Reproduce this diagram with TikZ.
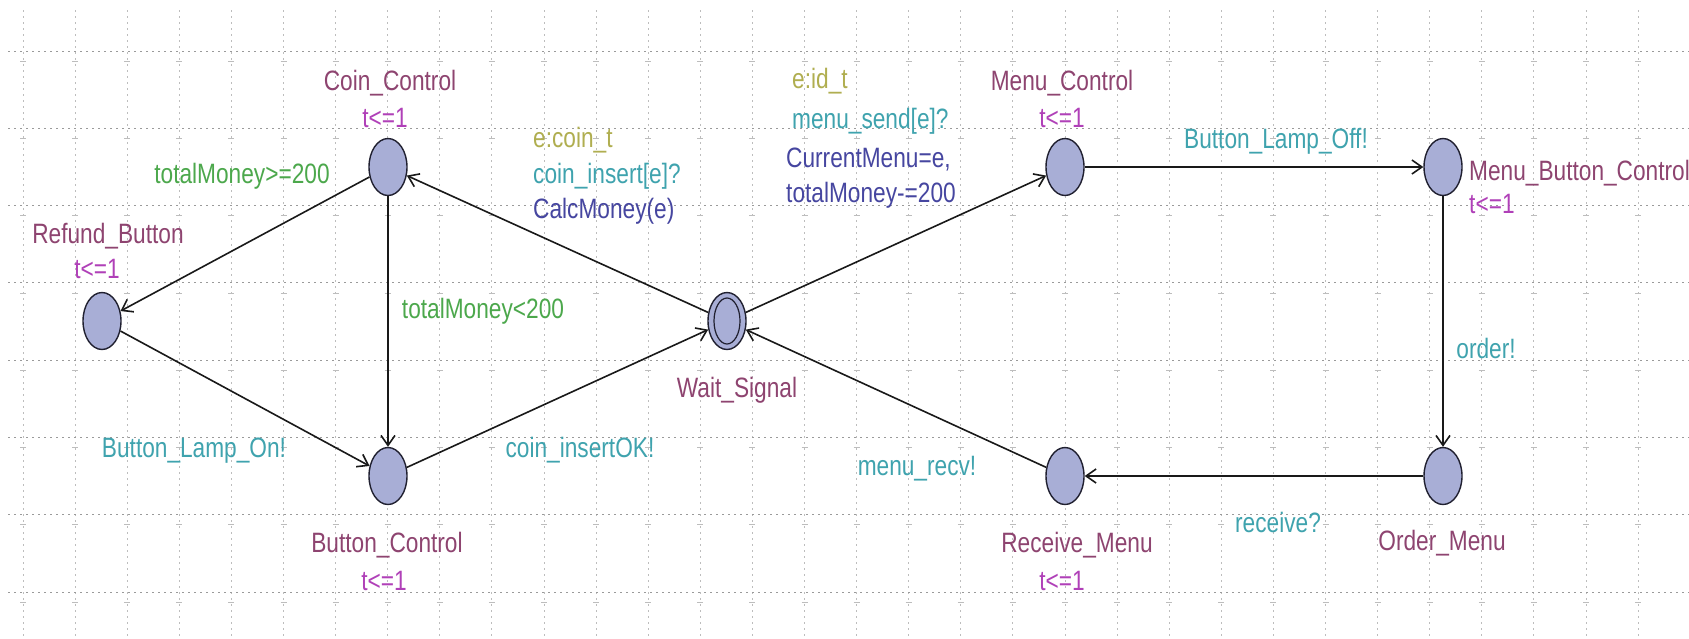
\documentclass[tikz,border=0pt]{standalone}
\usepackage{fontspec}
\setmainfont{Liberation Sans}
\newfontfamily\uppfont[FakeStretch=0.81]{Liberation Sans}
\usetikzlibrary{arrows.meta,shapes.geometric,positioning}
\definecolor{locfill}{HTML}{A8AED6}
\definecolor{locline}{HTML}{202030}
\definecolor{namecol}{HTML}{8E4470}
\definecolor{invcol}{HTML}{B040B8}
\definecolor{selcol}{HTML}{B0AE50}
\definecolor{guardcol}{HTML}{4CA84C}
\definecolor{synccol}{HTML}{3FA3AE}
\definecolor{updcol}{HTML}{4646A0}
\definecolor{gridh}{HTML}{9A9A9A}
\definecolor{gridv}{HTML}{BDBDBD}

\begin{document}
\begin{tikzpicture}[x=1pt, y=-1pt, >={Straight Barb[length=10pt,width=14pt]},
		font=\uppfont\fontsize{28}{36}\selectfont,
		loc/.style={ellipse, draw=locline, fill=locfill, line width=1.4pt, minimum width=38pt, minimum height=57pt, inner sep=0pt},
		initloc/.style={loc, path picture={
			\draw[locline, line width=1.2pt] (path picture bounding box.center) ellipse (13pt and 23pt);}},
		lbl/.style={inner sep=0pt, text height=22pt, text depth=2pt},
		lname/.style={lbl, text=namecol},
		linv/.style={lbl, text=invcol},
		lsel/.style={lbl, text=selcol, anchor=west},
		lguard/.style={lbl, text=guardcol},
		lsync/.style={lbl, text=synccol},
		lupd/.style={lbl, text=updcol, anchor=west},
		trans/.style={->, line width=1.6pt, draw=black!90}]
		\def\gx{52.1}\def\gy{77.3}
		\useasboundingbox (0,0) rectangle (1689,638);
		\fill[white] (0,0) rectangle (1689,638);
		% ---------------- grid ----------------
		\foreach \i in {0,...,31}
			\draw[gridv, line width=0.9pt, dash pattern=on 1.5pt off 4.5pt] ({23+\gx*\i},10) -- ({23+\gx*\i},638);
		\foreach \j in {0,...,7}
			\draw[gridh, line width=1pt, dash pattern=on 1.5pt off 4.5pt] (8,{51+\gy*\j}) -- (1689,{51+\gy*\j});
		\foreach \i in {0,...,31}
			\foreach \j in {0,...,7}
				\draw[gridv, line width=0.8pt] ({20+\gx*\i},{61+\gy*\j}) -- ({26+\gx*\i},{61+\gy*\j});
		% ---------------- locations ----------------
		\node[loc] (refund) at (102,321) {};
		\node[loc] (coin) at (388,167) {};
		\node[loc] (button) at (388,476) {};
		\node[initloc] (wait) at (727,321) {};
		\node[loc] (menuctl) at (1065,167) {};
		\node[loc] (menubtn) at (1443,167) {};
		\node[loc] (order) at (1443,476) {};
		\node[loc] (receive) at (1065,476) {};
		% names and invariants
		\node[lname] (refundName) at (108,233) {Refund\_Button};
		\node[linv] (refundInv) at (97,268) {t<=1};
		\node[lname] (coinName) at (390,80) {Coin\_Control};
		\node[linv] (coinInv) at (385,117) {t<=1};
		\node[lname] (buttonName) at (387,542) {Button\_Control};
		\node[linv] (buttonInv) at (384,580) {t<=1};
		\node[lname] (waitName) at (737,387) {Wait\_Signal};
		\node[lname] (menuctlName) at (1062,80) {Menu\_Control};
		\node[linv] (menuctlInv) at (1062,117) {t<=1};
		\node[lname, anchor=west] (menubtnName) at (1469,170) {Menu\_Button\_Control};
		\node[linv, anchor=west] (menubtnInv) at (1469,203) {t<=1};
		\node[lname] (orderName) at (1442,540) {Order\_Menu};
		\node[lname] (receiveName) at (1077,542) {Receive\_Menu};
		\node[linv] (receiveInv) at (1062,580) {t<=1};
		% ---------------- transitions ----------------
		\draw[trans] (coin) -- (refund);
		\draw[trans] (refund) -- (button);
		\draw[trans] (coin) -- (button);
		\draw[trans] (button) -- (wait);
		\draw[trans] (wait) -- (coin);
		\draw[trans] (wait) -- (menuctl);
		\draw[trans] (menuctl) -- (menubtn);
		\draw[trans] (menubtn) -- (order);
		\draw[trans] (order) -- (receive);
		\draw[trans] (receive) -- (wait);
		% guards and syncs
		\node[lguard] (gRefund) at (242,173) {totalMoney>=200};
		\node[lguard] (gButton) at (483,308) {totalMoney<200};
		\node[lsync] (sLampOn) at (194,447) {Button\_Lamp\_On!};
		\node[lsync] (sCoinOK) at (580,447) {coin\_insertOK!};
		% coin insert
		\node[lsel] (selCoin) at (533,137) {e:coin\_t};
		\node[lsync, anchor=west] (sCoin) at (533,173) {coin\_insert[e]?};
		\node[lupd] (uCoin) at (533,208) {CalcMoney(e)};
		% menu send
		\node[lsel] (selMenu) at (792,78) {e:id\_t};
		\node[lsync, anchor=west] (sMenu) at (792,118) {menu\_send[e]?};
		\node[lupd] (uMenu1) at (786,157) {CurrentMenu=e,};
		\node[lupd] (uMenu2) at (786,192) {totalMoney-=200};
		% right side
		\node[lsync] (sLampOff) at (1276,138) {Button\_Lamp\_Off!};
		\node[lsync] (sOrder) at (1486,348) {order!};
		\node[lsync] (sReceive) at (1278,522) {receive?};
		\node[lsync] (sRecv) at (917,465) {menu\_recv!};
	\end{tikzpicture}
\end{document}
